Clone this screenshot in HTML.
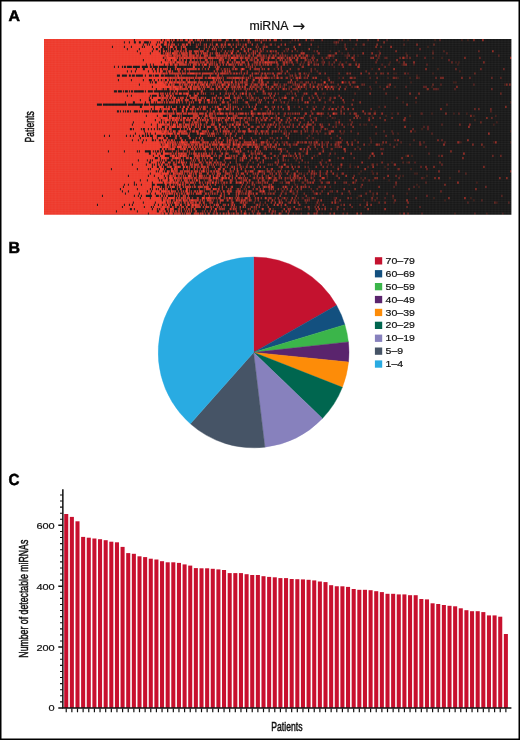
<!DOCTYPE html>
<html><head><meta charset="utf-8"><title>Figure</title>
<style>
html,body{margin:0;padding:0;background:#fff}
svg{display:block}
text{font-family:"Liberation Sans",Arial,Helvetica,sans-serif;fill:#111;stroke:#111;stroke-width:.2px}
.pl{text-rendering:geometricPrecision;font-weight:bold;font-size:15.2px;fill:#000;stroke:#000;stroke-width:.5px}
.cn{font-size:13.2px;stroke:#111;stroke-width:.5px}
</style></head><body>
<svg width="520" height="740" viewBox="0 0 520 740">
<rect x="0.75" y="0.75" width="518.5" height="738.5" fill="#fff" stroke="#000" stroke-width="1.5"/>
<text class="pl" transform="translate(8.6,20.95) scale(1.05,1)">A</text>
<text class="pl" transform="translate(8.5,252.8) scale(1.05,1.04)">B</text>
<text class="pl" transform="translate(8.6,484.95) scale(1.0,1.05)">C</text>
<text x="249.4" y="30" font-size="12.3">miRNA <tspan font-family="'DejaVu Sans','Liberation Sans',sans-serif" font-size="15" dx="1.4" dy="1.1">→</tspan></text>
<text class="cn" transform="translate(34.4,126.9) rotate(-90) scale(0.655,1)" text-anchor="middle">Patients</text>
<defs><filter id="bl" x="-0.02" y="-0.05" width="1.04" height="1.1"><feGaussianBlur stdDeviation="0.45"/></filter><clipPath id="hc"><rect x="44" y="39" width="467.4" height="175.8"/></clipPath></defs>
<g clip-path="url(#hc)"><g filter="url(#bl)"><rect x="40" y="35" width="476" height="184" fill="#161616"/><rect x="40" y="35" width="50" height="184" fill="#ee382c"/><g transform="translate(44,39) scale(0.99872,2.22532)"><g fill="none" stroke-width="1"><path d="M360 0.5h1m3 0h1m26 0h1m26 0h1m5 0h1M246 1.5h1M292 2.5h1M274 3.5h1m109 0h1M309 4.5h1M258 5.5h1m27 0h1m48 0h1m53 0h1M291 6.5h1m6 0h1m63 0h1M247 7.5h1m17 0h1m22 0h1m1 0h1m10 0h1m12 0h1M269 8.5h1m19 0h1m44 0h2m6 0h2m17 0h1m27 0h1m8 0h1M272 10.5h1m39 0h1m33 0h1m8 0h1m56 0h1m2 0h1M307 11.5h1m50 0h1m11 0h1m43 0h1M290 12.5h1M328 13.5h1m65 0h1M416 14.5h1M304 15.5h1m45 0h1m1 0h1m36 0h1M261 16.5h1m111 0h1M257 17.5h1m27 0h1m9 0h1m48 0h1m4 0h1m4 0h1m11 0h1m8 0h1M277 18.5h1M257 19.5h1m44 0h1m5 0h1m58 0h1m42 0h1m1 0h1M262 20.5h1m81 0h1m116 0h1M238 21.5h1m35 0h1m3 0h1m11 0h1m1 0h1m43 0h1m14 0h1m36 0h1M315 22.5h1m11 0h1m55 0h1M281 24.5h1M277 26.5h1m9 0h1M245 27.5h1m5 0h1m33 0h1M254 28.5h1m104 0h1m12 0h1m94 0h1M250 30.5h1m35 0h1m48 0h1M331 32.5h1M276 33.5h1m16 0h1m30 0h1m23 0h1m28 0h1m10 0h1m21 0h1m12 0h1M246 34.5h1m30 0h1m50 0h1m13 0h1m23 0h1m63 0h1m21 0h1M266 35.5h1m16 0h1m4 0h2m1 0h1M295 36.5h1m135 0h1M453 37.5h1M295 38.5h1m8 0h1m15 0h1m1 0h1m5 0h1m121 0h1M378 40.5h1M267 41.5h1m103 0h1m95 0h1M282 42.5h1m14 0h1m1 0h1m54 0h1M326 44.5h1M272 45.5h1m1 0h1m52 0h1M250 46.5h1m166 0h1m32 0h1m16 0h1M267 47.5h1m57 0h1m12 0h1m27 0h1m10 0h1M291 48.5h2m21 0h1m125 0h1M273 52.5h1m11 0h1m76 0h1m5 0h1M277 55.5h1m70 0h1m14 0h1M284 56.5h1m21 0h1m43 0h1M294 57.5h1m16 0h1m29 0h1M265 58.5h1m101 0h1M245 59.5h1m71 0h1m10 0h1M247 60.5h1m12 0h1m18 0h1m13 0h1m21 0h1m55 0h1m1 0h1M292 61.5h1m63 0h1m2 0h1m23 0h1M254 62.5h1m28 0h1m33 0h1m62 0h1m25 0h1M329 63.5h1m15 0h1M282 64.5h1m150 0h1M245 65.5h1m7 0h1m51 0h1m67 0h1M243 66.5h1m34 0h1m1 0h1m94 0h1M280 67.5h1M242 68.5h1M363 69.5h1M315 70.5h1m13 0h1M258 71.5h1m4 0h1m26 0h1m22 0h1m35 0h1m40 0h1m36 0h1M320 72.5h1m80 0h1m28 0h1M245 73.5h1m29 0h1m16 0h1m1 0h1m55 0h1m102 0h1M246 75.5h1M252 78.5h1m25 0h1m77 0h1m54 0h1m31 0h1m15 0h1" stroke="#57201d"/><path d="M203 0.5h1m8 0h1m4 0h1m7 0h1m22 0h1m46 0h1m10 0h1m17 0h1m18 0h1m52 0h1M290 1.5h1M231 2.5h1m87 0h1m40 0h1M235 3.5h1m65 0h1M207 4.5h1m34 0h1M219 5.5h1m23 0h1m9 0h1m16 0h1m24 0h1m104 0h1M205 6.5h1m21 0h1m4 0h1m71 0h1m98 0h1M206 7.5h1m19 0h1m5 0h1m6 0h1m3 0h1m40 0h1m2 0h1m15 0h1m151 0h1M216 8.5h1m5 0h1m17 0h1m13 0h1m3 0h1m4 0h1m18 0h2m26 0h1m30 0h1m21 0h1M264 9.5h1m14 0h1m53 0h1M257 10.5h1m2 0h1m9 0h1m7 0h1m6 0h1m10 0h1m5 0h1M259 11.5h1m25 0h1m13 0h1m38 0h1m6 0h1m37 0h1M225 13.5h1m4 0h1m24 0h1m15 0h1M237 14.5h1m35 0h1M202 15.5h1m7 0h1m2 0h1m3 0h1m7 0h1m19 0h1m5 0h1m10 0h1m2 0h1m9 0h1m88 0h1M251 16.5h2M224 17.5h1m2 0h2m3 0h1m3 0h1m9 0h1m2 0h1m11 0h1m22 0h1m25 0h1m15 0h1m130 0h1M209 19.5h1m24 0h1m21 0h1m1 0h1m42 0h1m9 0h1m20 0h1M209 20.5h1m59 0h1m9 0h1m117 0h1m32 0h1M207 21.5h1m5 0h3m11 0h1m6 0h1m10 0h1m12 0h1m3 0h1m13 0h1m8 0h1m3 0h1m12 0h1m5 0h1m17 0h1m18 0h1m16 0h1M197 22.5h1m52 0h1m1 0h1m15 0h1m71 0h1m53 0h1m16 0h1M254 23.5h1M220 24.5h1m22 0h1m1 0h1m2 0h1m14 0h1m15 0h1m31 0h1M259 25.5h1m8 0h1M205 26.5h1m29 0h1m44 0h1m72 0h1M207 27.5h1m13 0h1m44 0h1M201 28.5h1m42 0h1M243 29.5h1m159 0h1M202 30.5h1m20 0h1m45 0h1m24 0h1M234 31.5h1m34 0h1m27 0h1M447 32.5h1M211 33.5h1m1 0h1m8 0h1m8 0h1m8 0h1m7 0h2m19 0h1m8 0h1m12 0h1m38 0h1m47 0h1m36 0h1M202 34.5h1m22 0h1M230 35.5h1m12 0h1m10 0h1m1 0h1m13 0h1m45 0h1M203 36.5h1m5 0h1m10 0h1m4 0h1m12 0h1m8 0h1m2 0h1m9 0h1m100 0h1M238 38.5h1m53 0h1m23 0h1m81 0h1M226 39.5h1m8 0h1m3 0h1m19 0h1m19 0h1m100 0h1M241 40.5h1m35 0h1m5 0h1M212 41.5h1m6 0h2m3 0h1m15 0h1m11 0h2m18 0h1m27 0h1m39 0h1m7 0h1M223 42.5h1m44 0h1m5 0h1m6 0h1m50 0h1m16 0h1m38 0h1M244 43.5h1m20 0h1m27 0h1M269 44.5h1m17 0h1M210 45.5h1m87 0h1m12 0h1m58 0h1M212 46.5h1m25 0h1m1 0h1m19 0h1m21 0h1m12 0h1m31 0h1m29 0h1m22 0h1m20 0h1M208 47.5h1m10 0h1m29 0h1m16 0h1m6 0h1m6 0h1m51 0h1m13 0h1m6 0h1M214 48.5h1m13 0h2m35 0h1m27 0h1m88 0h1M227 49.5h1m11 0h1m1 0h1m31 0h1m13 0h1m51 0h1M197 50.5h1m16 0h1m44 0h1M209 51.5h1m16 0h1m64 0h1m93 0h1M219 52.5h1m14 0h1m9 0h1m4 0h1m9 0h1m10 0h1m124 0h1M199 53.5h1m33 0h1m60 0h1m3 0h1m26 0h1M241 54.5h1m2 0h1m7 0h1m25 0h1M232 55.5h1m28 0h1m97 0h1m11 0h1M228 56.5h1m18 0h1m50 0h1m29 0h1m4 0h1M242 57.5h1m21 0h1m24 0h1m7 0h1m8 0h1m17 0h1M344 58.5h1m9 0h1M219 59.5h1M218 60.5h1m64 0h1m45 0h1m92 0h1M210 61.5h1m56 0h1m15 0h1M209 62.5h1m2 0h1m31 0h1m5 0h1m4 0h1m13 0h1M229 63.5h1m1 0h1m1 0h1m85 0h1M212 64.5h1m2 0h1m20 0h1m13 0h1m7 0h1m4 0h1m4 0h1m8 0h1m6 0h1m26 0h1m70 0h1M251 65.5h1m100 0h1M262 66.5h1m13 0h1m9 0h1m30 0h1m32 0h1m19 0h1M237 67.5h1m13 0h1m2 0h1m12 0h1M215 68.5h1m9 0h1m13 0h1m9 0h1m36 0h1M220 69.5h2m5 0h1m13 0h1m8 0h1m2 0h1m16 0h1m35 0h1m22 0h1m13 0h1M458 70.5h1M197 71.5h1m15 0h1m10 0h1m13 0h1m2 0h1m1 0h1m10 0h1m4 0h1m5 0h1m2 0h1m2 0h1m35 0h1m25 0h1m7 0h1m30 0h1M203 72.5h1m48 0h1m75 0h1m2 0h1m106 0h1M203 73.5h1m40 0h1m179 0h1m40 0h1M212 74.5h1m3 0h1m2 0h1m22 0h1m13 0h1m15 0h1m2 0h1m21 0h1M237 75.5h1m5 0h1m49 0h1m27 0h1m54 0h1M229 76.5h1m15 0h1m11 0h1M227 78.5h1m9 0h1m11 0h1m7 0h1m7 0h1m7 0h1m104 0h1m52 0h1" stroke="#772520"/><path d="M165 0.5h1m4 0h2m5 0h1m6 0h1m9 0h1m2 0h1m22 0h1m16 0h1m13 0h1m15 0h1m1 0h1m8 0h1m19 0h1M168 1.5h1m25 0h1m99 0h1M152 2.5h1m3 0h1m23 0h1m11 0h1m3 0h1m2 0h1m20 0h1m5 0h1m74 0h1m10 0h1m7 0h1m69 0h1M153 3.5h1m6 0h1m13 0h1m6 0h1m16 0h1m3 0h1m11 0h1m4 0h1m3 0h1m113 0h1M164 4.5h1m13 0h1m34 0h1m162 0h1M164 5.5h1m12 0h1m6 0h1m1 0h1m2 0h1m3 0h1m22 0h1m14 0h1m8 0h1m194 0h1M162 6.5h1m8 0h1m10 0h1m9 0h1m14 0h1m8 0h1m21 0h1m19 0h1m15 0h1m114 0h1M165 7.5h1m10 0h2m1 0h1m1 0h1m3 0h2m2 0h1m2 0h1m1 0h1m4 0h1m1 0h1m13 0h3m2 0h1m1 0h1m15 0h1m9 0h1m2 0h1m7 0h1m9 0h1m19 0h1m20 0h1m24 0h1m27 0h1m9 0h1M154 8.5h1m4 0h1m2 0h1m7 0h1m1 0h1m2 0h1m3 0h1m2 0h1m1 0h1m9 0h1m4 0h1m3 0h3m1 0h2m1 0h2m1 0h1m3 0h2m1 0h1m6 0h1m5 0h1m2 0h1m2 0h1m20 0h1m9 0h1m7 0h1m6 0h1m17 0h1m5 0h1m46 0h1m3 0h1m5 0h1m14 0h1m54 0h1M153 9.5h1m12 0h1m11 0h1m27 0h1m1 0h1m9 0h1m13 0h1m10 0h1m1 0h1m16 0h1m3 0h1m138 0h1M153 10.5h1m3 0h2m3 0h1m4 0h1m4 0h1m3 0h1m3 0h1m16 0h1m13 0h2m2 0h1m3 0h2m8 0h1m15 0h1m1 0h1m5 0h1m10 0h2m24 0h1m41 0h1m75 0h1M167 11.5h1m16 0h1m3 0h1m9 0h1m2 0h1m3 0h1m4 0h1m1 0h2m1 0h1m10 0h1m7 0h1m4 0h1m3 0h1m28 0h1m6 0h1m8 0h1m6 0h1m9 0h1M175 12.5h1m13 0h1m12 0h1m1 0h1m6 0h1m5 0h1m15 0h1m24 0h1m82 0h1M158 13.5h1m18 0h1m3 0h1m3 0h1m2 0h1m4 0h1m6 0h1m9 0h1m1 0h1m1 0h1m39 0h1m12 0h1m144 0h1m24 0h1m22 0h1M180 14.5h1m5 0h1m28 0h1m22 0h1m28 0h1m54 0h1M154 15.5h1m14 0h1m12 0h1m1 0h1m2 0h1m1 0h1m21 0h1m8 0h1m2 0h2m1 0h1m1 0h1m4 0h1m2 0h1m58 0h1m36 0h1m6 0h1m91 0h1M178 16.5h1m20 0h1m21 0h1m24 0h1M153 17.5h1m8 0h1m9 0h1m3 0h1m7 0h1m1 0h3m7 0h2m2 0h1m5 0h1m2 0h1m5 0h1m2 0h2m5 0h1m4 0h1m6 0h2m3 0h1m17 0h1m10 0h1m27 0h1m6 0h3m2 0h1m21 0h1m18 0h1m20 0h1m18 0h1m33 0h1m21 0h1M188 18.5h1m6 0h1m57 0h1M166 19.5h1m8 0h1m6 0h1m1 0h1m12 0h1m3 0h3m10 0h1m4 0h1m3 0h1m6 0h1m17 0h1m19 0h1m2 0h1m17 0h1m20 0h1M166 20.5h1m2 0h1m5 0h1m1 0h1m3 0h1m9 0h2m5 0h1m11 0h1m1 0h1m3 0h1m1 0h1m12 0h2m3 0h1m5 0h1m6 0h1m9 0h1m15 0h1m18 0h1m23 0h1m1 0h1m68 0h1M161 21.5h1m14 0h1m2 0h1m7 0h3m4 0h1m1 0h1m11 0h1m1 0h1m1 0h1m5 0h1m10 0h1m2 0h1m7 0h1m11 0h1m58 0h1m68 0h1m1 0h1M166 22.5h1m1 0h1m7 0h2m14 0h1m3 0h1m3 0h1m6 0h2m2 0h1m5 0h1m1 0h1m4 0h1m1 0h2m2 0h1m14 0h1m3 0h1m1 0h1m4 0h1m5 0h1m23 0h1m103 0h1m1 0h1m55 0h1M182 23.5h1m37 0h1m26 0h1M167 24.5h1m13 0h1m6 0h1m12 0h1m3 0h1m13 0h1m4 0h1m9 0h1m107 0h1m114 0h1M180 25.5h1m13 0h1m1 0h1m5 0h1m2 0h1m35 0h1m10 0h1m20 0h1M158 26.5h1m35 0h2m11 0h1m1 0h1m2 0h1m1 0h1m7 0h1m6 0h1m8 0h1m35 0h1m11 0h1m3 0h1M176 27.5h1m14 0h1m7 0h1m6 0h1m2 0h1m1 0h1m24 0h1m11 0h1m5 0h1m20 0h2m9 0h1m22 0h1M168 28.5h1m14 0h2m8 0h1m20 0h1m22 0h1m32 0h1m10 0h1m18 0h1M204 29.5h1M168 30.5h1m24 0h1m5 0h1m8 0h1m13 0h1m5 0h1m26 0h1m7 0h1m8 0h1m7 0h1m17 0h1m42 0h1M171 31.5h1m40 0h1m4 0h1m26 0h1m13 0h1m20 0h1m20 0h1m26 0h1m103 0h1m3 0h1m11 0h1M166 32.5h1m9 0h1m9 0h1m36 0h1m43 0h1M171 33.5h1m3 0h1m5 0h1m5 0h2m6 0h1m13 0h2m12 0h1m1 0h1m3 0h1m4 0h2m10 0h1m32 0h1m4 0h1m12 0h1m8 0h1m3 0h2m13 0h1m28 0h1M158 34.5h1m8 0h2m21 0h1m1 0h2m15 0h1m30 0h1m19 0h1M163 35.5h1m6 0h2m4 0h2m2 0h1m7 0h1m1 0h1m2 0h1m1 0h1m2 0h1m1 0h3m1 0h1m2 0h1m8 0h1m3 0h1m11 0h1m25 0h1m66 0h1m10 0h1m111 0h1M160 36.5h1m6 0h1m2 0h1m12 0h2m20 0h1m1 0h1m6 0h1m3 0h1m3 0h1m3 0h1m5 0h1m13 0h1m59 0h1M154 37.5h1m19 0h1m3 0h1m13 0h3m6 0h2m9 0h1m22 0h1m56 0h1m15 0h1m128 0h1M162 38.5h1m20 0h1m1 0h1m8 0h1m10 0h1m11 0h1m17 0h1m10 0h1m17 0h4m3 0h1m6 0h1m137 0h1M170 39.5h1m15 0h1m15 0h1m4 0h1m1 0h1m4 0h2m3 0h1m16 0h1m40 0h1m11 0h1m2 0h1m7 0h1m83 0h1M173 40.5h1m8 0h1m8 0h1m68 0h1m2 0h1m105 0h1m14 0h1M183 41.5h1m4 0h1m6 0h1m2 0h1m5 0h1m23 0h2m2 0h1m1 0h1m7 0h1m4 0h1m3 0h1m11 0h1m9 0h1m2 0h1m8 0h1m21 0h1M161 42.5h1m10 0h1m1 0h1m4 0h1m1 0h1m2 0h1m27 0h1m8 0h1m2 0h1m3 0h1m13 0h1m14 0h1m27 0h1m28 0h1M181 43.5h1m16 0h1m143 0h1M172 44.5h1m13 0h1m8 0h1m30 0h1m1 0h1m34 0h1M158 45.5h1m13 0h1m1 0h1m11 0h2m3 0h2m7 0h1m29 0h1m120 0h1m46 0h1M162 46.5h1m27 0h1m4 0h1m6 0h4m1 0h1m12 0h1m2 0h1m1 0h1m3 0h1m12 0h2m9 0h1m2 0h1m4 0h1m30 0h1m4 0h1m10 0h1m67 0h1m38 0h1M175 47.5h1m5 0h4m1 0h1m4 0h1m1 0h1m2 0h1m3 0h3m8 0h1m1 0h1m1 0h1m2 0h1m24 0h1m2 0h1m3 0h1m2 0h1m16 0h2m15 0h1m3 0h2m2 0h1m80 0h1M170 48.5h1m9 0h1m12 0h1m4 0h1m4 0h1m11 0h1m5 0h2m1 0h1m7 0h1m13 0h1m36 0h1m66 0h1M157 49.5h1m7 0h3m2 0h1m16 0h1m3 0h1m1 0h1m6 0h1m19 0h1m10 0h1m2 0h2m43 0h1m8 0h1m22 0h1m4 0h1m20 0h1M182 50.5h1m6 0h1m1 0h1m15 0h1M161 51.5h1m5 0h1m9 0h1m3 0h1m2 0h1m10 0h1m3 0h1m8 0h1m4 0h2m2 0h2m26 0h1m10 0h1m5 0h1m12 0h1M161 52.5h1m14 0h2m7 0h1m3 0h1m2 0h2m14 0h1m21 0h2m15 0h1m78 0h1m122 0h1m7 0h1M152 53.5h1m2 0h1m31 0h1m4 0h1m3 0h1m10 0h1m6 0h1m7 0h1m1 0h1m25 0h1m59 0h1M165 54.5h1m26 0h1m6 0h1M159 55.5h1m14 0h1m2 0h1m14 0h1m11 0h1m4 0h1m45 0h1m8 0h1m17 0h1m82 0h1m30 0h1M163 56.5h2m9 0h1m4 0h1m13 0h1m1 0h2m6 0h1m20 0h1m1 0h1m60 0h1m41 0h1m14 0h1m53 0h1M154 57.5h2m12 0h1m8 0h1m3 0h1m5 0h1m5 0h1m2 0h2m1 0h1m2 0h2m5 0h1m25 0h1m7 0h1m7 0h1m2 0h1m6 0h1m21 0h1m93 0h1M162 58.5h1m38 0h1m25 0h1m9 0h1m117 0h1m27 0h1M166 59.5h1m2 0h1m5 0h1m6 0h1m4 0h1m6 0h1m7 0h1m1 0h1m4 0h1m7 0h1m2 0h1m2 0h2m2 0h1m2 0h1m10 0h1m2 0h1m25 0h1m144 0h1M182 60.5h1m1 0h1m2 0h1m25 0h1m23 0h1m17 0h1m1 0h1m5 0h1m3 0h2m29 0h1m34 0h1M162 61.5h1m9 0h1m1 0h1m3 0h1m1 0h1m4 0h2m6 0h1m2 0h1m9 0h1m15 0h1m5 0h1m1 0h1m4 0h1m10 0h1m7 0h1m15 0h1m22 0h1m16 0h1m41 0h1M154 62.5h1m3 0h1m1 0h1m1 0h3m9 0h1m5 0h1m15 0h1m16 0h1m2 0h1m5 0h1m4 0h1m2 0h1m1 0h1m10 0h1m9 0h1m4 0h1m62 0h1m18 0h1m14 0h1m22 0h1M160 63.5h1m3 0h1m4 0h1m4 0h1m1 0h1m11 0h1m8 0h1m1 0h3m4 0h1m11 0h3m3 0h1m16 0h1m6 0h1m6 0h1m20 0h1m48 0h1M165 64.5h1m11 0h1m1 0h1m3 0h1m10 0h1m10 0h1m3 0h1m8 0h1m1 0h1m17 0h1m4 0h1m15 0h1m4 0h1m18 0h1m16 0h1M156 65.5h1m21 0h1m1 0h1m21 0h1m15 0h1m42 0h1M175 66.5h1m25 0h1m2 0h1m5 0h1m8 0h1m1 0h1m53 0h1m166 0h1M160 67.5h1m14 0h1m10 0h2m5 0h1m2 0h1m3 0h1m1 0h1m9 0h1m27 0h1m32 0h1m91 0h1M166 68.5h2m8 0h1m8 0h1m7 0h1m4 0h1m5 0h1m2 0h1m10 0h1m12 0h1m6 0h1m30 0h1m8 0h1m9 0h1m37 0h1m70 0h1M166 69.5h1m4 0h1m25 0h1m1 0h1m2 0h1m3 0h1m11 0h1m5 0h1m4 0h2m11 0h1m6 0h1m10 0h1m15 0h1m45 0h1M210 70.5h1m138 0h1m33 0h1M168 71.5h2m4 0h1m7 0h1m4 0h1m3 0h1m3 0h1m2 0h1m6 0h2m18 0h1m1 0h1m3 0h1m19 0h1M167 72.5h1m1 0h1m3 0h1m10 0h1m2 0h2m5 0h1m4 0h1m6 0h2m3 0h1m18 0h1m6 0h1m4 0h1m22 0h1M165 73.5h1m1 0h1m19 0h1m8 0h1m4 0h2m7 0h1m5 0h1m4 0h1m29 0h1m10 0h1m60 0h1m11 0h1m115 0h1M166 74.5h1m13 0h1m6 0h1m11 0h1m15 0h1m7 0h1m92 0h1M161 75.5h1m4 0h1m13 0h1m8 0h1m2 0h1m15 0h1m52 0h1m3 0h1m5 0h1m9 0h1m12 0h1m13 0h1m54 0h1M175 76.5h1m1 0h1m1 0h1m7 0h1m2 0h1m1 0h1m3 0h1m13 0h1m1 0h1m12 0h1m27 0h1m1 0h1m9 0h1m12 0h1m8 0h1m5 0h1m6 0h1M158 77.5h1m4 0h1m46 0h1m17 0h1m9 0h1M157 78.5h1m1 0h1m10 0h1m9 0h1m6 0h1m2 0h1m1 0h2m3 0h1m4 0h1m2 0h1m8 0h1m6 0h1m9 0h1m67 0h1m3 0h1m60 0h1" stroke="#982a23"/><path d="M122 0.5h1m7 0h1m3 0h1m1 0h2m3 0h1m3 0h2m4 0h1m1 0h3m3 0h1m3 0h1m4 0h2m2 0h1m1 0h2m6 0h2m4 0h1m3 0h2m6 0h1m4 0h1m7 0h1m1 0h1m3 0h1m11 0h1m22 0h1m58 0h1m116 0h1M120 1.5h1m23 0h3m2 0h1m6 0h1m24 0h1m22 0h1m1 0h1m85 0h1m47 0h1M125 2.5h1m2 0h2m4 0h1m4 0h2m5 0h1m7 0h1m5 0h1m5 0h1m1 0h1m8 0h2m5 0h3m2 0h1m4 0h1m6 0h2m10 0h1m13 0h1m9 0h1m17 0h2m10 0h1m65 0h1m39 0h1M122 3.5h1m9 0h1m7 0h1m11 0h1m9 0h1m2 0h1m3 0h1m1 0h1m5 0h1m1 0h1m7 0h1m11 0h1m12 0h1m7 0h1m1 0h1m11 0h1m97 0h1M119 4.5h1m6 0h1m2 0h1m11 0h2m12 0h1m4 0h1m11 0h1m16 0h1m10 0h1m15 0h1m2 0h1m24 0h1m57 0h1M124 5.5h1m6 0h2m1 0h1m1 0h2m1 0h1m1 0h1m3 0h2m3 0h5m1 0h2m1 0h1m12 0h1m27 0h2m9 0h1m5 0h1m5 0h1m2 0h2m1 0h1m2 0h1m15 0h1m24 0h1m78 0h1M119 6.5h1m1 0h2m2 0h1m5 0h3m1 0h1m1 0h5m1 0h1m1 0h3m3 0h1m2 0h1m4 0h2m2 0h1m2 0h1m1 0h1m3 0h1m2 0h1m4 0h1m2 0h1m12 0h1m5 0h1m31 0h1m25 0h1m14 0h1m60 0h1M121 7.5h1m3 0h3m1 0h1m1 0h2m1 0h1m1 0h1m1 0h6m1 0h4m1 0h1m1 0h1m1 0h1m5 0h3m3 0h1m5 0h3m3 0h1m1 0h1m9 0h1m4 0h1m1 0h1m6 0h1m8 0h2m4 0h1m5 0h1m5 0h1m4 0h1m4 0h1m14 0h1m5 0h1m22 0h1m19 0h1m26 0h1M120 8.5h1m1 0h1m9 0h1m2 0h2m1 0h2m2 0h7m2 0h1m1 0h1m1 0h1m1 0h2m1 0h2m2 0h6m4 0h1m1 0h3m2 0h1m3 0h1m4 0h3m3 0h3m2 0h2m16 0h1m4 0h2m2 0h3m3 0h2m1 0h2m6 0h2m1 0h1m10 0h1m8 0h1m58 0h1m93 0h1M122 9.5h2m4 0h2m5 0h2m2 0h1m7 0h1m2 0h1m5 0h1m4 0h3m4 0h1m7 0h2m6 0h1m1 0h1m4 0h1m10 0h1m4 0h1m2 0h1m2 0h2m23 0h1m2 0h1m4 0h2m4 0h1m8 0h1m7 0h1m3 0h1m36 0h1m42 0h1M125 10.5h1m2 0h1m3 0h1m3 0h4m5 0h3m1 0h3m2 0h1m1 0h1m2 0h2m3 0h1m1 0h1m1 0h1m1 0h1m4 0h1m3 0h1m10 0h1m2 0h2m3 0h2m10 0h1m7 0h1m4 0h4m1 0h1m3 0h2m5 0h1m3 0h1m4 0h1m18 0h1m12 0h1m79 0h1m79 0h1M124 11.5h1m3 0h1m1 0h1m2 0h1m2 0h7m1 0h1m5 0h3m1 0h1m10 0h2m1 0h1m1 0h1m1 0h1m3 0h1m9 0h2m1 0h1m1 0h1m5 0h1m10 0h1m7 0h1m2 0h1m1 0h1m1 0h1m3 0h1m5 0h1m15 0h1m6 0h1m7 0h2m4 0h1m35 0h1m53 0h1M123 12.5h1m8 0h1m26 0h1m11 0h1m1 0h2m15 0h1m15 0h1m1 0h1m28 0h1m21 0h1m39 0h1m15 0h1M120 13.5h1m1 0h1m12 0h1m4 0h1m2 0h2m1 0h5m1 0h1m2 0h1m5 0h1m10 0h1m1 0h1m5 0h1m2 0h1m5 0h1m2 0h1m4 0h1m13 0h1m1 0h1m1 0h1m2 0h1m1 0h1m13 0h1m2 0h1m8 0h1m135 0h1M124 14.5h1m10 0h1m2 0h1m2 0h1m3 0h1m27 0h1m4 0h1m4 0h1m13 0h1m5 0h1M118 15.5h1m2 0h1m1 0h1m2 0h2m1 0h1m1 0h5m3 0h2m2 0h1m1 0h1m5 0h1m1 0h1m1 0h2m1 0h2m1 0h6m1 0h1m2 0h2m3 0h1m1 0h2m1 0h1m1 0h1m2 0h1m6 0h1m1 0h1m1 0h1m5 0h1m10 0h1m19 0h1m2 0h1m3 0h1m13 0h1m4 0h1m15 0h1m4 0h1m21 0h1m2 0h1m18 0h1m11 0h1m6 0h1m16 0h1M120 16.5h1m10 0h1m1 0h1m3 0h1m14 0h1m5 0h1m14 0h1m34 0h1m8 0h1m4 0h1m25 0h1m7 0h1M124 17.5h2m2 0h6m2 0h1m1 0h4m1 0h2m1 0h1m1 0h1m3 0h1m1 0h5m2 0h1m2 0h4m3 0h1m1 0h2m2 0h1m1 0h1m3 0h1m1 0h1m3 0h2m1 0h4m2 0h2m2 0h1m8 0h1m1 0h1m3 0h1m2 0h3m10 0h2m8 0h1m8 0h1m2 0h2m6 0h1m86 0h1m46 0h1m1 0h1m18 0h1M119 18.5h1m8 0h1m3 0h1m2 0h1m2 0h1m3 0h2m6 0h1m4 0h1m13 0h2m3 0h1m1 0h1m2 0h1m11 0h1m10 0h2m6 0h1m6 0h2M120 19.5h1m8 0h1m2 0h1m3 0h3m2 0h1m1 0h1m3 0h3m2 0h1m1 0h2m1 0h2m1 0h2m5 0h2m1 0h1m3 0h1m1 0h1m3 0h2m3 0h1m5 0h2m1 0h1m1 0h1m3 0h1m7 0h1m6 0h1m1 0h1m6 0h1m19 0h1m6 0h1m10 0h1m1 0h1m22 0h1m17 0h1m3 0h1M122 20.5h1m5 0h1m1 0h1m5 0h1m3 0h4m1 0h1m7 0h2m1 0h2m2 0h1m4 0h1m2 0h1m2 0h1m8 0h1m6 0h1m1 0h1m4 0h2m5 0h3m9 0h1m7 0h1m11 0h1m6 0h1m10 0h1m1 0h1m1 0h1m4 0h2m12 0h1m2 0h1m5 0h1m22 0h1m156 0h1m2 0h1M128 21.5h1m4 0h3m2 0h1m2 0h1m2 0h2m3 0h2m1 0h2m1 0h1m1 0h1m1 0h2m3 0h2m1 0h1m6 0h1m7 0h2m6 0h2m1 0h1m6 0h1m8 0h1m7 0h1m4 0h1m13 0h1m10 0h1m6 0h2m4 0h1m5 0h1m2 0h2m16 0h2m7 0h1m17 0h1m98 0h1M118 22.5h1m2 0h1m3 0h1m2 0h1m1 0h1m4 0h1m1 0h1m1 0h1m1 0h2m6 0h4m2 0h2m1 0h1m8 0h1m4 0h2m6 0h1m2 0h1m4 0h1m1 0h1m3 0h1m6 0h1m1 0h1m1 0h1m6 0h1m3 0h1m17 0h1m5 0h1m1 0h1m10 0h1m24 0h1m4 0h1m17 0h1m82 0h1M126 23.5h1m17 0h1m12 0h2m43 0h1m10 0h1M117 24.5h1m1 0h1m6 0h1m1 0h2m1 0h1m1 0h1m5 0h1m1 0h1m8 0h1m2 0h1m3 0h1m3 0h1m7 0h1m12 0h1m1 0h1m1 0h1m2 0h1m2 0h1m3 0h1m9 0h1m3 0h1m10 0h1m3 0h1m5 0h1m19 0h1m8 0h1m10 0h1m54 0h1m39 0h1m8 0h1M118 25.5h1m5 0h1m20 0h1m4 0h1m2 0h1m36 0h1m16 0h1m87 0h1M117 26.5h1m2 0h3m2 0h1m3 0h1m4 0h1m1 0h2m1 0h1m6 0h7m1 0h1m4 0h1m11 0h1m2 0h1m2 0h1m4 0h1m1 0h1m6 0h1m1 0h1m3 0h1m5 0h1m4 0h1m15 0h1m2 0h1m12 0h3m6 0h1m8 0h1m6 0h1m3 0h1m21 0h1m5 0h1m74 0h1M118 27.5h2m4 0h1m2 0h1m1 0h1m2 0h2m3 0h2m2 0h2m1 0h1m3 0h1m3 0h1m1 0h4m2 0h1m7 0h1m2 0h1m14 0h1m6 0h1m21 0h1m1 0h1m12 0h1m1 0h1m25 0h1M117 28.5h1m4 0h2m2 0h2m1 0h1m8 0h1m3 0h1m2 0h1m14 0h1m3 0h2m1 0h1m2 0h1m1 0h1m6 0h2m8 0h1m1 0h1m10 0h1m21 0h1m15 0h1m22 0h2m24 0h1m26 0h1M176 29.5h1m7 0h1m1 0h1m121 0h1m54 0h1M124 30.5h1m11 0h1m6 0h1m4 0h1m1 0h1m4 0h1m1 0h1m1 0h3m1 0h1m9 0h2m5 0h2m2 0h1m4 0h1m1 0h1m42 0h1m2 0h1m7 0h1m53 0h1m162 0h1M117 31.5h2m2 0h3m5 0h1m2 0h1m6 0h1m6 0h2m1 0h1m1 0h1m1 0h2m1 0h1m3 0h2m4 0h1m10 0h1m1 0h1m2 0h3m1 0h1m10 0h1m12 0h2m12 0h1m4 0h1m9 0h1m45 0h1m3 0h1m19 0h1m87 0h1M132 32.5h1m15 0h1m2 0h1m11 0h1m5 0h1m5 0h1m31 0h2m88 0h1M122 33.5h1m1 0h1m1 0h1m1 0h1m1 0h1m1 0h1m3 0h1m2 0h2m1 0h1m3 0h8m1 0h5m2 0h1m2 0h1m1 0h1m2 0h1m2 0h2m3 0h2m2 0h2m2 0h1m5 0h1m1 0h1m1 0h4m1 0h2m1 0h1m11 0h1m1 0h1m1 0h1m3 0h1m3 0h1m12 0h1m2 0h1m8 0h1m7 0h1m6 0h1m4 0h1m1 0h1m16 0h1m7 0h1m11 0h1m8 0h1m4 0h1m75 0h1M123 34.5h1m9 0h1m1 0h1m1 0h1m11 0h6m6 0h3m1 0h2m4 0h1m17 0h1m1 0h1m16 0h1m10 0h1m12 0h1m33 0h1m19 0h1m27 0h1m112 0h1M116 35.5h1m10 0h1m3 0h1m2 0h1m2 0h1m5 0h1m2 0h3m1 0h3m4 0h1m3 0h1m4 0h4m2 0h1m1 0h2m2 0h2m2 0h1m11 0h1m1 0h1m8 0h1m6 0h2m5 0h1m2 0h2m3 0h2m5 0h2m14 0h1m6 0h1m1 0h1m12 0h1m37 0h1m2 0h1m15 0h1m18 0h1m12 0h1m81 0h1M119 36.5h2m4 0h2m3 0h1m2 0h1m2 0h1m3 0h1m1 0h3m1 0h1m2 0h2m3 0h1m4 0h1m4 0h1m7 0h1m4 0h1m3 0h2m7 0h1m5 0h1m3 0h1m11 0h1m4 0h1m16 0h1m8 0h1m23 0h1m4 0h1m68 0h1m18 0h1M127 37.5h1m2 0h1m8 0h1m5 0h1m5 0h3m2 0h1m6 0h1m6 0h1m11 0h1m7 0h1m5 0h1m18 0h1m20 0h1m5 0h1m2 0h1m10 0h1m7 0h1M121 38.5h2m4 0h1m9 0h1m1 0h1m3 0h3m2 0h1m2 0h1m4 0h2m2 0h1m6 0h2m1 0h1m15 0h1m6 0h1m5 0h1m24 0h1m1 0h2m1 0h1m2 0h1m16 0h1m10 0h1m2 0h1m21 0h1m12 0h1m8 0h1m118 0h1M123 39.5h1m2 0h2m7 0h2m2 0h1m1 0h1m2 0h2m6 0h1m10 0h3m6 0h1m2 0h1m2 0h2m5 0h1m4 0h2m2 0h1m5 0h1m7 0h1m4 0h1m4 0h1m4 0h1m1 0h1m14 0h1m2 0h1m1 0h1m3 0h1m3 0h1m8 0h1m6 0h1m8 0h1m30 0h1m22 0h1M119 40.5h1m7 0h1m12 0h1m9 0h1m4 0h2m6 0h1m7 0h1m4 0h1m3 0h1m2 0h1m11 0h1m8 0h1m7 0h1m11 0h1m10 0h1m33 0h1m11 0h1M118 41.5h2m3 0h1m2 0h2m3 0h1m2 0h1m2 0h3m2 0h1m3 0h1m1 0h1m1 0h1m2 0h2m3 0h3m1 0h1m10 0h1m6 0h1m1 0h1m2 0h1m4 0h1m3 0h1m1 0h1m3 0h2m4 0h2m1 0h1m1 0h1m1 0h1m4 0h1m4 0h1m7 0h1m5 0h1m12 0h1m6 0h1m3 0h1m7 0h1m18 0h1m7 0h1M122 42.5h2m7 0h1m5 0h7m1 0h1m7 0h2m5 0h1m2 0h1m1 0h1m1 0h4m15 0h2m4 0h1m7 0h1m10 0h1m3 0h1m2 0h1m26 0h1M117 43.5h1m13 0h1m3 0h1m9 0h1m10 0h1m7 0h1m1 0h1m1 0h1m1 0h1m15 0h1m4 0h1m50 0h1M122 44.5h1m8 0h2m3 0h2m7 0h2m5 0h1m22 0h1m7 0h1m14 0h1m8 0h1m8 0h1m16 0h1m3 0h1m58 0h1M124 45.5h2m25 0h1m5 0h1m1 0h1m19 0h1m9 0h1m3 0h1m14 0h1m3 0h1m10 0h1m170 0h1M116 46.5h1m2 0h1m5 0h1m1 0h1m1 0h2m2 0h1m2 0h1m4 0h3m3 0h1m3 0h3m1 0h1m2 0h1m1 0h2m1 0h2m2 0h1m2 0h1m3 0h2m2 0h1m6 0h2m5 0h1m3 0h1m3 0h2m16 0h1m3 0h1m10 0h1m24 0h1m6 0h1m1 0h1m2 0h1m2 0h1m4 0h1m5 0h1m11 0h1m17 0h1m24 0h1m2 0h1m71 0h1M119 47.5h2m4 0h1m4 0h1m1 0h1m1 0h2m1 0h1m1 0h1m3 0h1m1 0h1m2 0h2m2 0h1m2 0h3m1 0h1m1 0h1m1 0h1m1 0h2m1 0h6m6 0h1m11 0h1m5 0h1m5 0h4m1 0h2m6 0h1m6 0h1m1 0h2m3 0h1m13 0h1m32 0h1m4 0h1m10 0h1m9 0h1m15 0h1m14 0h1m93 0h1m8 0h1M118 48.5h1m6 0h2m2 0h1m1 0h1m8 0h2m2 0h2m4 0h2m1 0h1m1 0h2m1 0h1m2 0h2m1 0h1m1 0h1m8 0h1m2 0h2m3 0h3m3 0h1m4 0h2m1 0h1m6 0h1m3 0h1m2 0h2m7 0h1m43 0h1m6 0h1m23 0h1m1 0h1M121 49.5h2m1 0h2m1 0h1m6 0h1m1 0h4m3 0h1m3 0h3m2 0h1m1 0h1m1 0h1m2 0h1m8 0h1m8 0h1m2 0h2m1 0h1m1 0h1m4 0h1m45 0h2m19 0h1m2 0h1m2 0h1m2 0h1m34 0h1M128 50.5h1m3 0h1m1 0h1m4 0h1m3 0h1m1 0h1m15 0h1m6 0h1m7 0h1m15 0h2m10 0h1m11 0h1m26 0h1m57 0h1m105 0h1M125 51.5h1m1 0h1m1 0h1m2 0h1m3 0h1m2 0h1m1 0h2m2 0h1m1 0h1m1 0h1m1 0h2m1 0h2m3 0h2m4 0h1m2 0h1m2 0h1m10 0h2m10 0h1m5 0h1m6 0h1m3 0h1m15 0h1m8 0h1m18 0h1m30 0h1m20 0h1m20 0h2M126 52.5h2m6 0h2m2 0h1m2 0h2m1 0h1m6 0h2m1 0h1m3 0h1m1 0h1m1 0h1m1 0h3m3 0h1m1 0h1m2 0h1m11 0h1m2 0h1m8 0h3m10 0h1m7 0h2m17 0h1m6 0h1m9 0h1m73 0h1m67 0h1M123 53.5h1m5 0h2m4 0h2m2 0h1m2 0h3m8 0h2m3 0h1m1 0h1m5 0h1m8 0h1m6 0h5m3 0h1m17 0h1m2 0h1m3 0h1m5 0h1m17 0h1m13 0h1m2 0h1m101 0h1m60 0h1M122 54.5h1m4 0h2m3 0h1m14 0h1m3 0h1m2 0h1m3 0h1m2 0h1m6 0h1m3 0h1m7 0h1m15 0h1m9 0h1m6 0h1m20 0h1m4 0h1m18 0h1m26 0h2M126 55.5h1m2 0h2m1 0h1m6 0h2m7 0h1m1 0h1m4 0h3m4 0h1m3 0h2m2 0h2m4 0h1m4 0h1m34 0h1m2 0h1m11 0h1m2 0h1m41 0h1m61 0h1M122 56.5h1m2 0h1m3 0h1m1 0h2m8 0h1m5 0h1m3 0h3m4 0h1m6 0h1m1 0h1m4 0h1m11 0h1m48 0h1m6 0h2m35 0h1M123 57.5h3m4 0h1m2 0h1m2 0h1m8 0h1m1 0h2m1 0h2m1 0h1m3 0h3m1 0h1m1 0h2m11 0h1m6 0h1m4 0h1m17 0h1m6 0h1m6 0h1m16 0h1m6 0h1m10 0h1m16 0h1m6 0h1m34 0h1m67 0h1m7 0h1m49 0h1M121 58.5h1m10 0h2m9 0h1m1 0h1m7 0h1m2 0h1m3 0h1m3 0h1m6 0h1m2 0h3m2 0h2m5 0h1m23 0h1m12 0h1m25 0h1M125 59.5h1m4 0h1m1 0h2m2 0h2m3 0h2m1 0h2m2 0h1m1 0h3m2 0h1m1 0h2m3 0h1m1 0h1m8 0h1m7 0h1m4 0h1m2 0h1m17 0h1m6 0h1m3 0h1m6 0h1m8 0h1m30 0h1m10 0h1m10 0h1m107 0h1m71 0h1M117 60.5h1m8 0h1m4 0h2m1 0h1m2 0h1m2 0h1m2 0h1m1 0h2m2 0h1m1 0h2m2 0h2m6 0h2m3 0h1m1 0h1m3 0h2m5 0h1m3 0h1m6 0h1m1 0h1m2 0h2m10 0h1m1 0h1m2 0h1m11 0h1m1 0h1m6 0h1m15 0h1m20 0h1m3 0h1m5 0h1m16 0h1M123 61.5h1m1 0h1m2 0h1m1 0h1m3 0h2m1 0h1m3 0h1m5 0h1m1 0h1m2 0h1m4 0h2m1 0h1m4 0h1m22 0h1m11 0h1m17 0h1m5 0h1m11 0h1m14 0h1m1 0h1m6 0h1M120 62.5h1m12 0h1m1 0h1m1 0h1m2 0h1m2 0h1m1 0h2m1 0h1m1 0h3m2 0h2m2 0h1m1 0h1m4 0h1m4 0h1m5 0h1m3 0h1m2 0h2m5 0h1m2 0h1m4 0h1m1 0h1m1 0h1m11 0h1m3 0h1m4 0h1m6 0h1m3 0h1m5 0h1m4 0h1m2 0h1m1 0h1m9 0h1m5 0h1m10 0h3m14 0h1m35 0h1m1 0h1m57 0h1m64 0h1m6 0h1M118 63.5h1m6 0h1m8 0h2m4 0h4m1 0h1m4 0h1m14 0h1m1 0h1m4 0h1m4 0h1m8 0h2m4 0h1m57 0h1m10 0h1m1 0h1m6 0h1m41 0h1M123 64.5h2m3 0h1m2 0h1m2 0h1m1 0h1m1 0h2m1 0h4m2 0h2m2 0h1m4 0h1m1 0h1m2 0h1m2 0h1m1 0h1m4 0h2m1 0h1m7 0h1m4 0h1m5 0h1m1 0h1m12 0h1m5 0h1m1 0h1m4 0h1m7 0h1m12 0h1m1 0h1m33 0h1m12 0h1m10 0h1m49 0h1M125 65.5h1m3 0h1m1 0h1m2 0h1m4 0h1m10 0h1m15 0h1m31 0h1m9 0h1m1 0h1m14 0h1m92 0h1m82 0h1M121 66.5h2m4 0h1m5 0h1m2 0h1m4 0h2m1 0h2m2 0h1m1 0h2m2 0h2m1 0h2m2 0h1m1 0h2m2 0h1m14 0h1m4 0h1m9 0h1m7 0h1m9 0h1m6 0h1m1 0h1m2 0h3m11 0h2m5 0h1m10 0h1m1 0h1m3 0h1m69 0h1M122 67.5h1m13 0h2m7 0h1m9 0h1m6 0h5m4 0h2m5 0h1m5 0h1m9 0h1m14 0h1m3 0h1m2 0h1m2 0h1m5 0h1m3 0h1m4 0h1m8 0h1m3 0h1m9 0h1m42 0h1m10 0h1m120 0h1M123 68.5h1m5 0h2m3 0h1m6 0h1m3 0h1m1 0h1m2 0h1m4 0h1m2 0h1m1 0h1m7 0h1m4 0h2m4 0h2m3 0h1m1 0h2m4 0h1m1 0h1m1 0h1m5 0h1m2 0h2m9 0h2m29 0h1m5 0h1m39 0h1m11 0h1M122 69.5h1m1 0h1m2 0h1m5 0h1m1 0h1m1 0h2m1 0h1m1 0h1m2 0h1m1 0h1m1 0h1m3 0h1m1 0h1m1 0h1m3 0h2m7 0h1m2 0h1m6 0h1m3 0h1m7 0h1m1 0h2m5 0h1m2 0h2m1 0h1m4 0h2m12 0h1m10 0h1m35 0h1m24 0h1m34 0h1M133 70.5h1m6 0h1m19 0h1m4 0h1m11 0h1m2 0h1m11 0h1m1 0h1m9 0h1m31 0h1m15 0h1m9 0h1m54 0h1M117 71.5h1m2 0h1m13 0h2m2 0h1m1 0h1m3 0h1m3 0h1m4 0h2m7 0h2m2 0h2m2 0h1m1 0h1m2 0h2m3 0h1m2 0h1m4 0h1m4 0h2m7 0h2m7 0h1m5 0h1m3 0h2m3 0h1m7 0h1m34 0h1m22 0h1m11 0h1m23 0h1m76 0h1M122 72.5h1m2 0h1m3 0h2m3 0h1m2 0h1m3 0h3m2 0h1m3 0h3m1 0h1m1 0h1m3 0h1m2 0h3m10 0h4m12 0h2m1 0h1m2 0h1m2 0h1m12 0h1m20 0h1m11 0h1m2 0h1m10 0h1m1 0h1m10 0h1m16 0h1m4 0h1m54 0h1M125 73.5h1m7 0h1m1 0h1m1 0h1m3 0h1m1 0h1m3 0h3m1 0h2m2 0h2m2 0h2m5 0h1m6 0h1m2 0h1m11 0h2m37 0h1m7 0h2m17 0h1m18 0h1m67 0h1m22 0h1M120 74.5h1m12 0h2m6 0h1m1 0h1m3 0h1m2 0h1m2 0h3m1 0h1m2 0h1m1 0h1m9 0h2m5 0h1m1 0h1m18 0h2m31 0h2m2 0h1m17 0h1m23 0h1m20 0h1m5 0h1m20 0h1M117 75.5h1m4 0h1m2 0h1m3 0h1m1 0h2m2 0h1m2 0h1m4 0h1m3 0h3m2 0h5m6 0h1m3 0h1m1 0h1m3 0h1m1 0h1m1 0h1m9 0h1m2 0h1m10 0h1m5 0h1m2 0h1m1 0h1m2 0h1m8 0h1m39 0h1M116 76.5h1m7 0h1m9 0h1m5 0h1m1 0h1m1 0h2m5 0h1m9 0h1m14 0h1m1 0h1m1 0h1m10 0h1m12 0h1m1 0h1m11 0h2m24 0h1m1 0h1m5 0h1m19 0h1M119 77.5h1m8 0h1m3 0h1m1 0h2m5 0h1m3 0h1m5 0h1m8 0h1m5 0h1m5 0h1m28 0h1m6 0h1m5 0h1m14 0h1m1 0h1m13 0h1m27 0h1M117 78.5h1m7 0h1m5 0h3m1 0h2m3 0h1m2 0h3m5 0h3m7 0h1m3 0h1m3 0h1m2 0h1m3 0h1m5 0h1m2 0h1m8 0h1m14 0h1m5 0h2m11 0h1m6 0h2m7 0h1m19 0h1m5 0h1m1 0h1m13 0h1m30 0h1" stroke="#c33128"/><path d="M0 0.5h90m1 0h26m1 0h2m1 0h1m1 0h3m1 0h1m1 0h1m3 0h1m4 0h1m3 0h2m3 0h2m8 0h1m18 0h1m27 0h1m6 0h1m10 0h1m3 0h1m3 0h1m1 0h1m29 0h1m71 0h1m104 0h1M0 1.5h80m1 0h4m1 0h4m2 0h3m2 0h3m5 0h1m1 0h6m1 0h1m1 0h3m2 0h2m2 0h1m2 0h1m88 0h1M0 2.5h99m1 0h3m1 0h1m1 0h6m1 0h4m3 0h3m1 0h1m2 0h1m2 0h1m7 0h1m3 0h2m18 0h1m9 0h2m7 0h1m26 0h1m32 0h1M0 3.5h68m1 0h11m1 0h6m1 0h10m1 0h1m1 0h7m1 0h6m1 0h2m6 0h1m1 0h3m2 0h1m5 0h1m1 0h1m1 0h1m50 0h1m57 0h1m96 0h1M0 4.5h83m1 0h11m1 0h13m1 0h2m2 0h3m7 0h1m7 0h1m4 0h1m30 0h1m1 0h1m26 0h1m6 0h1m1 0h1m44 0h1m13 0h1M0 5.5h93m1 0h14m1 0h6m1 0h1m2 0h2m1 0h1m3 0h1m3 0h1m2 0h1m8 0h1m4 0h1m10 0h1m4 0h1m17 0h1m6 0h1m5 0h1m9 0h1m4 0h1m3 0h1m235 0h1M0 6.5h96m1 0h9m1 0h10m6 0h2m1 0h1m1 0h3m11 0h1m9 0h1m4 0h1m3 0h1m11 0h1m13 0h2m20 0h1m1 0h1m3 0h1m41 0h1m1 0h1m32 0h1m26 0h1m8 0h1M0 7.5h121m1 0h3m5 0h1m2 0h1m1 0h1m13 0h1m3 0h1m2 0h1m6 0h1m11 0h1m6 0h1m1 0h1m8 0h1m11 0h1m3 0h1m19 0h1m22 0h1m2 0h1m7 0h1m22 0h1M0 8.5h119m2 0h1m1 0h9m1 0h1m3 0h1m2 0h2m7 0h2m1 0h1m3 0h1m14 0h1m1 0h1m13 0h3m3 0h1m18 0h1m30 0h1m6 0h1m2 0h1m3 0h1m3 0h1m46 0h1m20 0h1m29 0h1m107 0h1M0 9.5h99m1 0h21m3 0h3m3 0h3m5 0h1m3 0h1m3 0h1m28 0h1m3 0h1m10 0h1m6 0h1m5 0h1m13 0h1m1 0h1m4 0h1m11 0h1m16 0h1m38 0h1M0 10.5h117m1 0h7m1 0h2m1 0h2m2 0h3m5 0h2m5 0h1m3 0h1m10 0h1m14 0h1m4 0h2m3 0h1m3 0h1m2 0h1m4 0h1m3 0h1m8 0h1m2 0h1m4 0h2m4 0h1m2 0h1m9 0h1m1 0h1m127 0h1M0 11.5h102m1 0h3m1 0h2m1 0h10m1 0h3m2 0h2m3 0h2m2 0h1m10 0h1m2 0h1m5 0h1m2 0h1m1 0h3m10 0h1m5 0h1m2 0h1m2 0h1m8 0h1m1 0h1m7 0h1m19 0h1m15 0h1m33 0h1m23 0h1m13 0h1m2 0h1m46 0h1M0 12.5h70m1 0h3m1 0h3m1 0h1m2 0h1m5 0h1m7 0h2m6 0h2m2 0h1m5 0h1m16 0h1m17 0h2m14 0h1m148 0h1M0 13.5h92m1 0h6m2 0h7m1 0h2m2 0h2m1 0h2m1 0h1m1 0h1m1 0h1m2 0h1m4 0h1m1 0h2m1 0h1m4 0h1m3 0h1m5 0h1m2 0h1m9 0h1m8 0h1m17 0h1m6 0h2m6 0h1m17 0h1m110 0h1m14 0h1M0 14.5h83m1 0h3m1 0h3m1 0h12m1 0h4m1 0h2m1 0h2m1 0h3m3 0h1m2 0h2m1 0h1m5 0h1m35 0h1m10 0h1m3 0h1m57 0h1M0 15.5h118m1 0h2m1 0h1m2 0h1m2 0h1m1 0h1m5 0h1m1 0h1m2 0h1m2 0h1m1 0h5m1 0h1m7 0h1m6 0h1m6 0h1m2 0h1m2 0h1m9 0h1m1 0h1m7 0h1m7 0h1m3 0h1m5 0h1m2 0h1m7 0h1m5 0h1m20 0h1m60 0h1M0 16.5h73m3 0h2m5 0h2m2 0h1m3 0h1m7 0h2m1 0h3m3 0h1m1 0h1m4 0h2m17 0h1m31 0h1m7 0h1m31 0h1m23 0h1m2 0h1m30 0h1M0 17.5h124m2 0h2m6 0h2m1 0h1m4 0h1m2 0h1m1 0h1m1 0h1m1 0h1m16 0h3m4 0h1m15 0h1m12 0h1m7 0h1m1 0h1m1 0h1m6 0h1m29 0h1m15 0h1m2 0h1M0 18.5h74m1 0h12m1 0h11m1 0h5m3 0h2m1 0h3m1 0h2m1 0h1m1 0h1m2 0h2m1 0h1m4 0h1m5 0h1m7 0h1m26 0h1m25 0h1m10 0h1m5 0h1m31 0h1m37 0h1M0 19.5h106m1 0h1m1 0h2m2 0h7m1 0h3m1 0h4m1 0h2m1 0h3m3 0h2m3 0h3m3 0h2m4 0h1m6 0h1m5 0h1m1 0h1m5 0h1m5 0h1m3 0h2m9 0h1m19 0h1m27 0h1m33 0h2m16 0h2M0 20.5h95m1 0h26m2 0h2m1 0h1m1 0h1m5 0h1m2 0h1m8 0h2m1 0h1m7 0h2m2 0h2m9 0h1m4 0h2m4 0h2m21 0h1m3 0h1m5 0h1m1 0h1m2 0h1m7 0h1m35 0h1m79 0h1M0 21.5h108m1 0h19m1 0h4m3 0h2m4 0h1m3 0h2m3 0h1m2 0h1m8 0h1m8 0h1m2 0h1m2 0h1m5 0h1m10 0h1m2 0h1m2 0h1m4 0h1m17 0h1m3 0h1m28 0h1m15 0h1m7 0h2m1 0h1m28 0h1m29 0h1M0 22.5h112m1 0h5m2 0h1m1 0h1m3 0h2m1 0h1m1 0h4m1 0h1m1 0h1m1 0h1m2 0h1m2 0h2m6 0h1m5 0h1m8 0h1m11 0h1m57 0h1m34 0h1m14 0h1m5 0h1M0 23.5h70m3 0h1m4 0h1m1 0h1m3 0h1m1 0h1m2 0h1m10 0h1m1 0h2m5 0h1m20 0h1m2 0h1m56 0h1m28 0h1M0 24.5h115m1 0h1m1 0h1m2 0h1m1 0h1m1 0h1m6 0h1m2 0h3m2 0h1m1 0h3m9 0h1m4 0h1m16 0h1m21 0h2m2 0h1m24 0h1m34 0h1m9 0h1M0 25.5h83m1 0h3m1 0h18m1 0h1m5 0h2m2 0h1m1 0h1m2 0h2m2 0h2m1 0h1m13 0h1m2 0h1m4 0h2m19 0h1m12 0h1m40 0h1m3 0h1M0 26.5h105m1 0h2m1 0h8m1 0h2m3 0h1m2 0h1m1 0h1m1 0h2m6 0h1m3 0h1m14 0h1m3 0h1m6 0h1m1 0h1m5 0h1m4 0h1m1 0h1m1 0h1m4 0h1m29 0h1m27 0h1M0 27.5h96m1 0h8m2 0h7m3 0h1m4 0h1m7 0h1m3 0h2m7 0h1m7 0h1m11 0h3m13 0h1m119 0h1M0 28.5h81m1 0h7m2 0h10m1 0h4m1 0h3m1 0h1m1 0h4m1 0h1m1 0h1m4 0h1m2 0h1m1 0h1m1 0h2m1 0h1m11 0h1m1 0h1m5 0h2m21 0h1m24 0h1m12 0h1m12 0h1m31 0h1M0 29.5h53m5 0h1m24 0h1m15 0h1m5 0h1m39 0h1m66 0h1M0 30.5h96m2 0h12m1 0h9m2 0h1m2 0h1m1 0h1m4 0h1m6 0h2m3 0h1m4 0h1m21 0h1m14 0h1m18 0h1m5 0h1m9 0h1m8 0h1m13 0h1M0 31.5h107m1 0h2m1 0h5m3 0h2m3 0h2m2 0h1m1 0h2m6 0h1m3 0h2m4 0h1m10 0h1m14 0h3m12 0h1m4 0h1m50 0h1m24 0h1m17 0h1m3 0h1m11 0h1M0 32.5h73m2 0h1m1 0h2m1 0h1m1 0h1m2 0h1m1 0h3m4 0h1m1 0h2m1 0h1m5 0h1m1 0h1m6 0h1m3 0h2m3 0h1m5 0h1m8 0h2m2 0h1m27 0h1m55 0h1m92 0h1M0 33.5h122m1 0h1m1 0h1m1 0h1m1 0h1m3 0h3m1 0h1m3 0h1m2 0h2m15 0h1m4 0h1m1 0h1m7 0h2m7 0h1m3 0h1m17 0h2m5 0h2m3 0h1m1 0h1m4 0h1m24 0h1m3 0h1m6 0h1m11 0h1m2 0h1m11 0h2m40 0h1m6 0h1M0 34.5h102m1 0h10m1 0h5m6 0h3m55 0h1m128 0h1M0 35.5h116m1 0h7m1 0h2m1 0h3m1 0h2m1 0h1m3 0h3m2 0h1m4 0h1m4 0h2m4 0h1m23 0h2m1 0h1m1 0h1m1 0h1m5 0h1m47 0h1m5 0h1M0 36.5h111m1 0h5m1 0h1m2 0h4m3 0h2m1 0h2m1 0h1m2 0h1m1 0h1m5 0h1m7 0h1m2 0h1m1 0h1m2 0h1m1 0h1m4 0h1m5 0h2m11 0h1m1 0h1m31 0h1m15 0h1m15 0h1m71 0h1M0 37.5h89m1 0h10m1 0h14m1 0h1m1 0h2m1 0h2m2 0h1m6 0h2m6 0h1m7 0h1m1 0h1m11 0h1m5 0h1m34 0h1m26 0h1m38 0h1m25 0h1M0 38.5h88m1 0h18m1 0h5m1 0h7m2 0h3m3 0h3m1 0h1m1 0h2m4 0h2m4 0h1m1 0h1m2 0h1m1 0h1m14 0h1m5 0h2m11 0h2m2 0h1m2 0h2m7 0h1m15 0h1m34 0h1m20 0h1M0 39.5h113m1 0h4m3 0h2m2 0h1m2 0h4m1 0h2m2 0h1m2 0h1m1 0h1m4 0h1m3 0h1m2 0h1m1 0h1m3 0h1m5 0h1m4 0h1m9 0h1m49 0h1m26 0h1m4 0h1m97 0h1m63 0h1M0 40.5h86m2 0h1m1 0h7m1 0h1m2 0h3m1 0h2m1 0h2m1 0h2m1 0h1m1 0h1m1 0h1m2 0h2m2 0h2m9 0h1m6 0h1m1 0h2m25 0h1m32 0h1M0 41.5h100m1 0h17m2 0h3m1 0h1m4 0h2m4 0h2m3 0h2m7 0h1m2 0h1m8 0h1m2 0h1m4 0h1m6 0h1m2 0h1m1 0h1m2 0h1m14 0h1m5 0h1m11 0h1m4 0h1m64 0h1m1 0h1m77 0h1M0 42.5h91m1 0h9m1 0h1m1 0h2m1 0h4m1 0h10m2 0h5m1 0h1m2 0h3m20 0h4m22 0h1m57 0h1m45 0h1m158 0h1M0 43.5h60m1 0h4m1 0h16m1 0h3m1 0h2m1 0h5m1 0h2m2 0h1m1 0h1m2 0h1m3 0h4m5 0h1m2 0h1m4 0h1m5 0h1m11 0h1M0 44.5h96m1 0h11m1 0h4m1 0h6m3 0h1m31 0h1m2 0h1m17 0h1m11 0h1m7 0h1m47 0h1M0 45.5h88m1 0h5m1 0h4m1 0h2m1 0h5m2 0h1m1 0h3m2 0h1m1 0h4m4 0h2m1 0h1m6 0h2m2 0h1m7 0h1m21 0h1m11 0h1m1 0h1m168 0h1m69 0h1M0 46.5h98m1 0h17m1 0h2m1 0h2m1 0h2m1 0h1m1 0h1m2 0h1m3 0h1m1 0h4m5 0h1m1 0h3m3 0h1m4 0h1m9 0h1m2 0h1m4 0h1m5 0h1m5 0h1m16 0h1m2 0h2m6 0h1m1 0h1m34 0h1m7 0h1m9 0h1m21 0h1m8 0h1m148 0h1M0 47.5h117m1 0h1m2 0h4m1 0h1m1 0h2m1 0h1m4 0h1m1 0h1m1 0h3m1 0h1m2 0h1m3 0h1m1 0h1m4 0h1m17 0h4m5 0h1m3 0h2m3 0h2m3 0h1m3 0h1m8 0h1m10 0h1m8 0h1m2 0h1m4 0h1m11 0h1m22 0h1m32 0h1m24 0h1m66 0h1M0 48.5h118m1 0h6m3 0h1m1 0h1m2 0h5m1 0h1m2 0h1m3 0h1m1 0h1m10 0h1m3 0h1m8 0h1m40 0h1m12 0h1m3 0h1m47 0h1M0 49.5h116m2 0h2m6 0h1m1 0h3m9 0h2m9 0h1m8 0h2m11 0h1m1 0h1m12 0h1m7 0h1m15 0h1m1 0h1m7 0h1m33 0h1m43 0h1M0 50.5h64m1 0h15m1 0h12m1 0h1m1 0h5m6 0h2m1 0h1m1 0h1m2 0h1m1 0h1m1 0h2m29 0h1m43 0h1m1 0h1m14 0h1m25 0h1m25 0h1m15 0h1M0 51.5h105m2 0h5m1 0h4m2 0h6m1 0h1m4 0h1m2 0h2m1 0h2m1 0h1m9 0h1m6 0h1m4 0h1m15 0h1m36 0h1m35 0h1m11 0h1m12 0h1m61 0h1m81 0h1M0 52.5h109m1 0h5m1 0h5m7 0h3m1 0h1m3 0h2m1 0h2m9 0h1m2 0h1m1 0h1m1 0h1m1 0h1m3 0h1m17 0h1m23 0h1m34 0h1m1 0h1m9 0h1m111 0h1M0 53.5h111m3 0h2m1 0h6m1 0h1m3 0h1m2 0h4m11 0h2m2 0h1m12 0h1m3 0h2m12 0h1m16 0h1m1 0h1m1 0h1m9 0h1m14 0h1m40 0h1m30 0h1M0 54.5h94m1 0h8m1 0h2m1 0h1m1 0h7m1 0h1m1 0h1m1 0h1m13 0h1m1 0h1m1 0h1m9 0h1m5 0h1m42 0h1m20 0h1M0 55.5h105m2 0h6m1 0h1m1 0h1m1 0h3m3 0h2m8 0h2m1 0h2m3 0h1m3 0h1m16 0h1m1 0h1m7 0h1m12 0h1m131 0h1M0 56.5h88m1 0h13m1 0h5m1 0h1m1 0h2m1 0h2m1 0h2m2 0h1m1 0h1m6 0h1m7 0h2m6 0h1m1 0h1m1 0h1m3 0h1m2 0h1m11 0h1m6 0h1m1 0h1m1 0h1m33 0h1m82 0h1m53 0h1M0 57.5h108m1 0h4m2 0h3m1 0h1m6 0h2m3 0h2m1 0h2m3 0h2m1 0h2m16 0h1m9 0h1m19 0h1m16 0h1m8 0h1m21 0h1m9 0h1m80 0h1M0 58.5h67m1 0h25m1 0h10m1 0h1m1 0h8m1 0h4m7 0h2m1 0h2m7 0h1m10 0h1m8 0h1m30 0h1m2 0h1m3 0h1m30 0h1m65 0h1m26 0h1M0 59.5h112m1 0h1m1 0h4m1 0h1m2 0h2m2 0h3m1 0h1m6 0h1m1 0h1m2 0h1m3 0h1m5 0h1m5 0h2m6 0h1m2 0h1m1 0h1m1 0h1m4 0h1m13 0h1m7 0h1m4 0h1m1 0h1m6 0h2m19 0h1m16 0h1m14 0h1m14 0h1M0 60.5h106m1 0h10m1 0h7m4 0h2m2 0h1m1 0h2m1 0h1m8 0h1m9 0h1m15 0h1m2 0h1m6 0h1m15 0h1m3 0h1m16 0h1m11 0h1m10 0h1m6 0h1m19 0h1m18 0h1M0 61.5h84m1 0h19m1 0h5m1 0h9m1 0h2m3 0h2m1 0h1m1 0h1m7 0h1m4 0h3m8 0h2m9 0h1m2 0h1m3 0h1m1 0h1m5 0h1m10 0h1m20 0h1m36 0h1m25 0h1m25 0h1m41 0h1M0 62.5h114m1 0h5m2 0h2m1 0h4m1 0h3m1 0h1m1 0h1m2 0h1m1 0h2m1 0h1m2 0h1m9 0h1m7 0h1m3 0h2m1 0h2m4 0h2m2 0h1m5 0h1m6 0h1m1 0h1m12 0h1m7 0h1m6 0h2m10 0h1m18 0h1m52 0h1m85 0h1M0 63.5h96m1 0h6m1 0h11m1 0h1m2 0h5m2 0h4m1 0h1m1 0h1m3 0h1m10 0h1m3 0h2m1 0h1m10 0h1m11 0h1m23 0h1m2 0h1m8 0h1m15 0h1m1 0h1m14 0h1M0 64.5h90m1 0h17m1 0h10m1 0h3m2 0h3m1 0h2m1 0h2m12 0h1m2 0h1m5 0h1m7 0h1m4 0h2m10 0h1m5 0h1m5 0h1m3 0h2m1 0h1m3 0h1m19 0h1m21 0h1m20 0h1m2 0h1m15 0h1m23 0h1m104 0h1M0 65.5h80m1 0h3m1 0h5m1 0h1m1 0h4m1 0h10m3 0h2m8 0h2m3 0h1m6 0h1m1 0h2m1 0h1m2 0h1m3 0h1m13 0h1m3 0h1m7 0h1m55 0h1M0 66.5h79m1 0h28m1 0h7m1 0h1m6 0h1m1 0h1m1 0h3m4 0h1m3 0h1m3 0h1m2 0h1m9 0h1m3 0h1m1 0h1m15 0h1m9 0h1m31 0h1m4 0h1m13 0h1m13 0h1m3 0h1m23 0h1M0 67.5h76m1 0h16m1 0h12m1 0h1m1 0h3m1 0h1m1 0h3m1 0h1m1 0h1m1 0h1m3 0h1m5 0h1m8 0h2m25 0h2m3 0h1m52 0h1M0 68.5h78m1 0h5m1 0h18m1 0h3m1 0h8m1 0h6m1 0h2m1 0h2m2 0h1m5 0h1m1 0h1m2 0h2m7 0h1m1 0h1m2 0h2m25 0h1m11 0h1m23 0h2m25 0h1M0 69.5h81m1 0h13m1 0h10m1 0h4m1 0h6m1 0h1m1 0h1m1 0h1m1 0h2m1 0h1m1 0h1m1 0h1m10 0h2m7 0h1m1 0h1m1 0h1m7 0h1m3 0h1m8 0h1m7 0h1m23 0h1m62 0h1m11 0h1M0 70.5h58m1 0h31m1 0h3m1 0h2m1 0h4m6 0h4m3 0h1m1 0h2m1 0h1m1 0h2m6 0h1m4 0h1m3 0h1m1 0h1m2 0h1m31 0h1m28 0h1M0 71.5h96m1 0h9m1 0h10m2 0h1m1 0h2m1 0h7m1 0h1m4 0h1m1 0h1m1 0h1m1 0h1m1 0h1m12 0h3m3 0h2m19 0h2m14 0h1m12 0h1m25 0h1m7 0h1m172 0h1M0 72.5h118m1 0h3m1 0h2m1 0h1m5 0h2m1 0h2m2 0h2m4 0h1m1 0h3m3 0h1m4 0h1m7 0h1m16 0h1m13 0h1m2 0h1m4 0h1m18 0h1m3 0h1m48 0h1m85 0h1M0 73.5h89m1 0h9m1 0h11m1 0h10m1 0h2m1 0h1m1 0h1m1 0h3m1 0h1m5 0h1m3 0h1m1 0h1m21 0h1m28 0h1m1 0h1m31 0h1m6 0h1m7 0h1m3 0h1m37 0h1m2 0h1M0 74.5h53m1 0h26m1 0h4m1 0h2m1 0h21m1 0h3m1 0h3m1 0h1m1 0h2m1 0h2m1 0h1m3 0h2m3 0h2m6 0h2m2 0h2m1 0h2m17 0h1m3 0h1m9 0h1m3 0h1m1 0h1m22 0h1m16 0h1m10 0h1m81 0h1M0 75.5h78m1 0h21m1 0h6m1 0h1m1 0h7m1 0h4m1 0h2m3 0h1m8 0h1m1 0h1m2 0h1m8 0h1m7 0h1m2 0h1m1 0h1m31 0h1m2 0h1m50 0h1m23 0h1M0 76.5h86m2 0h2m1 0h17m1 0h4m1 0h1m2 0h4m2 0h1m2 0h4m5 0h1m1 0h1m9 0h1m2 0h1m16 0h1m3 0h2m13 0h1m2 0h1m36 0h1m13 0h1m34 0h1m5 0h1m42 0h1m16 0h1M0 77.5h72m1 0h20m1 0h19m2 0h4m1 0h2m2 0h1m1 0h2m1 0h1m1 0h1m5 0h1m5 0h1m3 0h1m4 0h1m17 0h1m13 0h1m7 0h1m4 0h1m27 0h1m16 0h1M0 78.5h104m1 0h12m1 0h2m1 0h3m2 0h3m1 0h1m3 0h1m3 0h1m3 0h1m3 0h1m3 0h1m3 0h1m1 0h1m1 0h1m5 0h1m8 0h1m5 0h1m4 0h1m4 0h1m10 0h2m11 0h1m76 0h1m22 0h1m46 0h1" stroke="#ee382c"/></g></g></g></g>
<path d="M45.44 39V214.8M46.88 39V214.8M48.31 39V214.8M49.75 39V214.8M51.19 39V214.8M52.63 39V214.8M54.07 39V214.8M55.51 39V214.8M56.94 39V214.8M58.38 39V214.8M59.82 39V214.8M61.26 39V214.8M62.7 39V214.8M64.13 39V214.8M65.57 39V214.8M67.01 39V214.8M68.45 39V214.8M69.89 39V214.8M71.32 39V214.8M72.76 39V214.8M74.2 39V214.8M75.64 39V214.8M77.08 39V214.8M78.52 39V214.8M79.95 39V214.8M81.39 39V214.8M82.83 39V214.8M84.27 39V214.8M85.71 39V214.8M87.14 39V214.8M88.58 39V214.8M90.02 39V214.8M91.46 39V214.8M92.9 39V214.8M94.34 39V214.8M95.77 39V214.8M97.21 39V214.8M98.65 39V214.8M100.09 39V214.8M101.53 39V214.8M102.96 39V214.8M104.4 39V214.8M105.84 39V214.8M107.28 39V214.8M108.72 39V214.8M110.16 39V214.8M111.59 39V214.8M113.03 39V214.8M114.47 39V214.8M115.91 39V214.8M117.35 39V214.8M118.78 39V214.8M120.22 39V214.8M121.66 39V214.8M123.1 39V214.8M124.54 39V214.8M125.97 39V214.8M127.41 39V214.8M128.85 39V214.8M130.29 39V214.8M131.73 39V214.8M133.17 39V214.8M134.6 39V214.8M136.04 39V214.8M137.48 39V214.8M138.92 39V214.8M140.36 39V214.8M141.79 39V214.8M143.23 39V214.8M144.67 39V214.8M146.11 39V214.8M147.55 39V214.8M148.99 39V214.8M150.42 39V214.8M151.86 39V214.8M153.3 39V214.8M154.74 39V214.8M156.18 39V214.8M157.61 39V214.8M159.05 39V214.8M160.49 39V214.8M161.93 39V214.8M163.37 39V214.8M164.8 39V214.8M166.24 39V214.8M167.68 39V214.8M169.12 39V214.8M170.56 39V214.8M172 39V214.8M173.43 39V214.8M174.87 39V214.8M176.31 39V214.8M177.75 39V214.8M179.19 39V214.8M180.62 39V214.8M182.06 39V214.8M183.5 39V214.8M184.94 39V214.8M186.38 39V214.8M187.82 39V214.8M189.25 39V214.8M190.69 39V214.8M192.13 39V214.8M193.57 39V214.8M195.01 39V214.8M196.44 39V214.8M197.88 39V214.8M199.32 39V214.8M200.76 39V214.8M202.2 39V214.8M203.64 39V214.8M205.07 39V214.8M206.51 39V214.8M207.95 39V214.8M209.39 39V214.8M210.83 39V214.8M212.26 39V214.8M213.7 39V214.8M215.14 39V214.8M216.58 39V214.8M218.02 39V214.8M219.45 39V214.8M220.89 39V214.8M222.33 39V214.8M223.77 39V214.8M225.21 39V214.8M226.65 39V214.8M228.08 39V214.8M229.52 39V214.8M230.96 39V214.8M232.4 39V214.8M233.84 39V214.8M235.27 39V214.8M236.71 39V214.8M238.15 39V214.8M239.59 39V214.8M241.03 39V214.8M242.47 39V214.8M243.9 39V214.8M245.34 39V214.8M246.78 39V214.8M248.22 39V214.8M249.66 39V214.8M251.09 39V214.8M252.53 39V214.8M253.97 39V214.8M255.41 39V214.8M256.85 39V214.8M258.28 39V214.8M259.72 39V214.8M261.16 39V214.8M262.6 39V214.8M264.04 39V214.8M265.48 39V214.8M266.91 39V214.8M268.35 39V214.8M269.79 39V214.8M271.23 39V214.8M272.67 39V214.8M274.1 39V214.8M275.54 39V214.8M276.98 39V214.8M278.42 39V214.8M279.86 39V214.8M281.3 39V214.8M282.73 39V214.8M284.17 39V214.8M285.61 39V214.8M287.05 39V214.8M288.49 39V214.8M289.92 39V214.8M291.36 39V214.8M292.8 39V214.8M294.24 39V214.8M295.68 39V214.8M297.12 39V214.8M298.55 39V214.8M299.99 39V214.8M301.43 39V214.8M302.87 39V214.8M304.31 39V214.8M305.74 39V214.8M307.18 39V214.8M308.62 39V214.8M310.06 39V214.8M311.5 39V214.8M312.93 39V214.8M314.37 39V214.8M315.81 39V214.8M317.25 39V214.8M318.69 39V214.8M320.13 39V214.8M321.56 39V214.8M323 39V214.8M324.44 39V214.8M325.88 39V214.8M327.32 39V214.8M328.75 39V214.8M330.19 39V214.8M331.63 39V214.8M333.07 39V214.8M334.51 39V214.8M335.95 39V214.8M337.38 39V214.8M338.82 39V214.8M340.26 39V214.8M341.7 39V214.8M343.14 39V214.8M344.57 39V214.8M346.01 39V214.8M347.45 39V214.8M348.89 39V214.8M350.33 39V214.8M351.76 39V214.8M353.2 39V214.8M354.64 39V214.8M356.08 39V214.8M357.52 39V214.8M358.96 39V214.8M360.39 39V214.8M361.83 39V214.8M363.27 39V214.8M364.71 39V214.8M366.15 39V214.8M367.58 39V214.8M369.02 39V214.8M370.46 39V214.8M371.9 39V214.8M373.34 39V214.8M374.78 39V214.8M376.21 39V214.8M377.65 39V214.8M379.09 39V214.8M380.53 39V214.8M381.97 39V214.8M383.4 39V214.8M384.84 39V214.8M386.28 39V214.8M387.72 39V214.8M389.16 39V214.8M390.6 39V214.8M392.03 39V214.8M393.47 39V214.8M394.91 39V214.8M396.35 39V214.8M397.79 39V214.8M399.22 39V214.8M400.66 39V214.8M402.1 39V214.8M403.54 39V214.8M404.98 39V214.8M406.41 39V214.8M407.85 39V214.8M409.29 39V214.8M410.73 39V214.8M412.17 39V214.8M413.61 39V214.8M415.04 39V214.8M416.48 39V214.8M417.92 39V214.8M419.36 39V214.8M420.8 39V214.8M422.23 39V214.8M423.67 39V214.8M425.11 39V214.8M426.55 39V214.8M427.99 39V214.8M429.43 39V214.8M430.86 39V214.8M432.3 39V214.8M433.74 39V214.8M435.18 39V214.8M436.62 39V214.8M438.05 39V214.8M439.49 39V214.8M440.93 39V214.8M442.37 39V214.8M443.81 39V214.8M445.24 39V214.8M446.68 39V214.8M448.12 39V214.8M449.56 39V214.8M451 39V214.8M452.44 39V214.8M453.87 39V214.8M455.31 39V214.8M456.75 39V214.8M458.19 39V214.8M459.63 39V214.8M461.06 39V214.8M462.5 39V214.8M463.94 39V214.8M465.38 39V214.8M466.82 39V214.8M468.26 39V214.8M469.69 39V214.8M471.13 39V214.8M472.57 39V214.8M474.01 39V214.8M475.45 39V214.8M476.88 39V214.8M478.32 39V214.8M479.76 39V214.8M481.2 39V214.8M482.64 39V214.8M484.08 39V214.8M485.51 39V214.8M486.95 39V214.8M488.39 39V214.8M489.83 39V214.8M491.27 39V214.8M492.7 39V214.8M494.14 39V214.8M495.58 39V214.8M497.02 39V214.8M498.46 39V214.8M499.89 39V214.8M501.33 39V214.8M502.77 39V214.8M504.21 39V214.8M505.65 39V214.8M507.09 39V214.8M508.52 39V214.8M509.96 39V214.8M44 41.23H511.4M44 43.45H511.4M44 45.68H511.4M44 47.9H511.4M44 50.13H511.4M44 52.35H511.4M44 54.58H511.4M44 56.8H511.4M44 59.03H511.4M44 61.25H511.4M44 63.48H511.4M44 65.7H511.4M44 67.93H511.4M44 70.15H511.4M44 72.38H511.4M44 74.61H511.4M44 76.83H511.4M44 79.06H511.4M44 81.28H511.4M44 83.51H511.4M44 85.73H511.4M44 87.96H511.4M44 90.18H511.4M44 92.41H511.4M44 94.63H511.4M44 96.86H511.4M44 99.08H511.4M44 101.31H511.4M44 103.53H511.4M44 105.76H511.4M44 107.98H511.4M44 110.21H511.4M44 112.44H511.4M44 114.66H511.4M44 116.89H511.4M44 119.11H511.4M44 121.34H511.4M44 123.56H511.4M44 125.79H511.4M44 128.01H511.4M44 130.24H511.4M44 132.46H511.4M44 134.69H511.4M44 136.91H511.4M44 139.14H511.4M44 141.36H511.4M44 143.59H511.4M44 145.82H511.4M44 148.04H511.4M44 150.27H511.4M44 152.49H511.4M44 154.72H511.4M44 156.94H511.4M44 159.17H511.4M44 161.39H511.4M44 163.62H511.4M44 165.84H511.4M44 168.07H511.4M44 170.29H511.4M44 172.52H511.4M44 174.74H511.4M44 176.97H511.4M44 179.19H511.4M44 181.42H511.4M44 183.65H511.4M44 185.87H511.4M44 188.1H511.4M44 190.32H511.4M44 192.55H511.4M44 194.77H511.4M44 197H511.4M44 199.22H511.4M44 201.45H511.4M44 203.67H511.4M44 205.9H511.4M44 208.12H511.4M44 210.35H511.4M44 212.57H511.4" stroke="#fff" stroke-opacity=".055" stroke-width=".7" fill="none"/>
<path d="M253.6 352.4L253.6 257A95.4 95.4 0 0 1 336.55 305.28Z" fill="#c4122f" stroke="#c4122f" stroke-width=".4"/><path d="M253.6 352.4L336.55 305.28A95.4 95.4 0 0 1 344.88 324.67Z" fill="#13507f" stroke="#13507f" stroke-width=".4"/><path d="M253.6 352.4L344.88 324.67A95.4 95.4 0 0 1 348.42 341.93Z" fill="#3bb54a" stroke="#3bb54a" stroke-width=".4"/><path d="M253.6 352.4L348.42 341.93A95.4 95.4 0 0 1 348.51 362.04Z" fill="#5a246d" stroke="#5a246d" stroke-width=".4"/><path d="M253.6 352.4L348.51 362.04A95.4 95.4 0 0 1 342.36 387.36Z" fill="#fd8c08" stroke="#fd8c08" stroke-width=".4"/><path d="M253.6 352.4L342.36 387.36A95.4 95.4 0 0 1 322.46 418.43Z" fill="#00664f" stroke="#00664f" stroke-width=".4"/><path d="M253.6 352.4L322.46 418.43A95.4 95.4 0 0 1 264.9 447.13Z" fill="#8781bd" stroke="#8781bd" stroke-width=".4"/><path d="M253.6 352.4L264.9 447.13A95.4 95.4 0 0 1 190.39 423.85Z" fill="#465466" stroke="#465466" stroke-width=".4"/><path d="M253.6 352.4L190.39 423.85A95.4 95.4 0 0 1 253.6 257Z" fill="#29abe2" stroke="#29abe2" stroke-width=".4"/>
<rect x="374.9" y="257.2" width="7.3" height="7.3" fill="#c4122f"/><text transform="translate(385.6,263.95) scale(1.11,1)" font-size="9.5">70–79</text><rect x="374.9" y="270.1" width="7.3" height="7.3" fill="#13507f"/><text transform="translate(385.6,276.85) scale(1.11,1)" font-size="9.5">60–69</text><rect x="374.9" y="283" width="7.3" height="7.3" fill="#3bb54a"/><text transform="translate(385.6,289.75) scale(1.11,1)" font-size="9.5">50–59</text><rect x="374.9" y="295.9" width="7.3" height="7.3" fill="#5a246d"/><text transform="translate(385.6,302.65) scale(1.11,1)" font-size="9.5">40–49</text><rect x="374.9" y="308.8" width="7.3" height="7.3" fill="#fd8c08"/><text transform="translate(385.6,315.55) scale(1.11,1)" font-size="9.5">30–39</text><rect x="374.9" y="321.7" width="7.3" height="7.3" fill="#00664f"/><text transform="translate(385.6,328.45) scale(1.11,1)" font-size="9.5">20–29</text><rect x="374.9" y="334.6" width="7.3" height="7.3" fill="#8781bd"/><text transform="translate(385.6,341.35) scale(1.11,1)" font-size="9.5">10–19</text><rect x="374.9" y="347.5" width="7.3" height="7.3" fill="#465466"/><text transform="translate(385.6,354.25) scale(1.11,1)" font-size="9.5">5–9</text><rect x="374.9" y="360.4" width="7.3" height="7.3" fill="#29abe2"/><text transform="translate(385.6,367.15) scale(1.11,1)" font-size="9.5">1–4</text>
<g fill="#c8102e"><rect x="64.2" y="514" width="4.05" height="193.95"/><rect x="69.84" y="516.9" width="4.05" height="191.05"/><rect x="75.47" y="521.3" width="4.05" height="186.65"/><rect x="81.11" y="536.9" width="4.05" height="171.05"/><rect x="86.75" y="537.7" width="4.05" height="170.25"/><rect x="92.38" y="538.5" width="4.05" height="169.45"/><rect x="98.02" y="539.2" width="4.05" height="168.75"/><rect x="103.66" y="540.2" width="4.05" height="167.75"/><rect x="109.29" y="541.7" width="4.05" height="166.25"/><rect x="114.93" y="542.3" width="4.05" height="165.65"/><rect x="120.56" y="546.9" width="4.05" height="161.05"/><rect x="126.2" y="553.1" width="4.05" height="154.85"/><rect x="131.84" y="553.8" width="4.05" height="154.15"/><rect x="137.47" y="556.3" width="4.05" height="151.65"/><rect x="143.11" y="557.1" width="4.05" height="150.85"/><rect x="148.75" y="558.7" width="4.05" height="149.25"/><rect x="154.38" y="559.5" width="4.05" height="148.45"/><rect x="160.02" y="561.2" width="4.05" height="146.75"/><rect x="165.66" y="562.3" width="4.05" height="145.65"/><rect x="171.29" y="562.3" width="4.05" height="145.65"/><rect x="176.93" y="562.9" width="4.05" height="145.05"/><rect x="182.57" y="564.4" width="4.05" height="143.55"/><rect x="188.2" y="565.6" width="4.05" height="142.35"/><rect x="193.84" y="568.1" width="4.05" height="139.85"/><rect x="199.48" y="568.3" width="4.05" height="139.65"/><rect x="205.11" y="568.3" width="4.05" height="139.65"/><rect x="210.75" y="568.8" width="4.05" height="139.15"/><rect x="216.39" y="569.4" width="4.05" height="138.55"/><rect x="222.02" y="570" width="4.05" height="137.95"/><rect x="227.66" y="573.1" width="4.05" height="134.85"/><rect x="233.3" y="573.1" width="4.05" height="134.85"/><rect x="238.93" y="573.1" width="4.05" height="134.85"/><rect x="244.57" y="574.2" width="4.05" height="133.75"/><rect x="250.2" y="575" width="4.05" height="132.95"/><rect x="255.84" y="575" width="4.05" height="132.95"/><rect x="261.48" y="576.2" width="4.05" height="131.75"/><rect x="267.11" y="576.9" width="4.05" height="131.05"/><rect x="272.75" y="577.3" width="4.05" height="130.65"/><rect x="278.39" y="578.1" width="4.05" height="129.85"/><rect x="284.02" y="578.1" width="4.05" height="129.85"/><rect x="289.66" y="579" width="4.05" height="128.95"/><rect x="295.3" y="579.2" width="4.05" height="128.75"/><rect x="300.93" y="579.4" width="4.05" height="128.55"/><rect x="306.57" y="579.8" width="4.05" height="128.15"/><rect x="312.21" y="580.4" width="4.05" height="127.55"/><rect x="317.84" y="581.5" width="4.05" height="126.45"/><rect x="323.48" y="582.1" width="4.05" height="125.85"/><rect x="329.12" y="585.2" width="4.05" height="122.75"/><rect x="334.75" y="586.25" width="4.05" height="121.7"/><rect x="340.39" y="586.3" width="4.05" height="121.65"/><rect x="346.02" y="586.9" width="4.05" height="121.05"/><rect x="351.66" y="589" width="4.05" height="118.95"/><rect x="357.3" y="589.8" width="4.05" height="118.15"/><rect x="362.93" y="589.8" width="4.05" height="118.15"/><rect x="368.57" y="590.2" width="4.05" height="117.75"/><rect x="374.21" y="591.2" width="4.05" height="116.75"/><rect x="379.84" y="592.1" width="4.05" height="115.85"/><rect x="385.48" y="593.8" width="4.05" height="114.15"/><rect x="391.12" y="593.8" width="4.05" height="114.15"/><rect x="396.75" y="594.4" width="4.05" height="113.55"/><rect x="402.39" y="594.4" width="4.05" height="113.55"/><rect x="408.03" y="595.2" width="4.05" height="112.75"/><rect x="413.66" y="595.2" width="4.05" height="112.75"/><rect x="419.3" y="599" width="4.05" height="108.95"/><rect x="424.94" y="599.4" width="4.05" height="108.55"/><rect x="430.57" y="603.3" width="4.05" height="104.65"/><rect x="436.21" y="604" width="4.05" height="103.95"/><rect x="441.85" y="605" width="4.05" height="102.95"/><rect x="447.48" y="605.8" width="4.05" height="102.15"/><rect x="453.12" y="606.3" width="4.05" height="101.65"/><rect x="458.75" y="608.3" width="4.05" height="99.65"/><rect x="464.39" y="610.2" width="4.05" height="97.75"/><rect x="470.03" y="611.2" width="4.05" height="96.75"/><rect x="475.66" y="611.2" width="4.05" height="96.75"/><rect x="481.3" y="612.1" width="4.05" height="95.85"/><rect x="486.94" y="615.4" width="4.05" height="92.55"/><rect x="492.57" y="615.4" width="4.05" height="92.55"/><rect x="498.21" y="616.7" width="4.05" height="91.25"/><rect x="503.85" y="634" width="4.05" height="73.95"/></g>
<path d="M62.85 489.3V708.7M62.1 707.95H511.4" stroke="#111" stroke-width="1.5" fill="none"/>
<path d="M60 701.86H62.8M60 695.78H62.8M60 689.69H62.8M60 683.61H62.8M60 677.52H62.8M60 671.43H62.8M60 665.35H62.8M60 659.26H62.8M60 653.18H62.8M60 641H62.8M60 634.92H62.8M60 628.83H62.8M60 622.75H62.8M60 616.66H62.8M60 610.57H62.8M60 604.49H62.8M60 598.4H62.8M60 592.32H62.8M60 580.14H62.8M60 574.06H62.8M60 567.97H62.8M60 561.89H62.8M60 555.8H62.8M60 549.71H62.8M60 543.63H62.8M60 537.54H62.8M60 531.46H62.8M60 519.28H62.8M60 513.2H62.8M60 507.11H62.8M60 501.03H62.8M60 494.94H62.8" stroke="#111" stroke-width="1.1" fill="none"/>
<path d="M58.3 707.95H62.8M58.3 647.09H62.8M58.3 586.23H62.8M58.3 525.37H62.8" stroke="#111" stroke-width="1.5" fill="none"/>
<path d="M66.23 708.5v3.7M71.86 708.5v3.7M77.5 708.5v3.7M83.13 708.5v3.7M88.77 708.5v3.7M94.41 708.5v3.7M100.04 708.5v3.7M105.68 708.5v3.7M111.32 708.5v3.7M116.95 708.5v3.7M122.59 708.5v3.7M128.23 708.5v3.7M133.86 708.5v3.7M139.5 708.5v3.7M145.14 708.5v3.7M150.77 708.5v3.7M156.41 708.5v3.7M162.05 708.5v3.7M167.68 708.5v3.7M173.32 708.5v3.7M178.96 708.5v3.7M184.59 708.5v3.7M190.23 708.5v3.7M195.86 708.5v3.7M201.5 708.5v3.7M207.14 708.5v3.7M212.77 708.5v3.7M218.41 708.5v3.7M224.05 708.5v3.7M229.68 708.5v3.7M235.32 708.5v3.7M240.96 708.5v3.7M246.59 708.5v3.7M252.23 708.5v3.7M257.87 708.5v3.7M263.5 708.5v3.7M269.14 708.5v3.7M274.78 708.5v3.7M280.41 708.5v3.7M286.05 708.5v3.7M291.68 708.5v3.7M297.32 708.5v3.7M302.96 708.5v3.7M308.59 708.5v3.7M314.23 708.5v3.7M319.87 708.5v3.7M325.5 708.5v3.7M331.14 708.5v3.7M336.78 708.5v3.7M342.41 708.5v3.7M348.05 708.5v3.7M353.69 708.5v3.7M359.32 708.5v3.7M364.96 708.5v3.7M370.6 708.5v3.7M376.23 708.5v3.7M381.87 708.5v3.7M387.51 708.5v3.7M393.14 708.5v3.7M398.78 708.5v3.7M404.41 708.5v3.7M410.05 708.5v3.7M415.69 708.5v3.7M421.32 708.5v3.7M426.96 708.5v3.7M432.6 708.5v3.7M438.23 708.5v3.7M443.87 708.5v3.7M449.51 708.5v3.7M455.14 708.5v3.7M460.78 708.5v3.7M466.42 708.5v3.7M472.05 708.5v3.7M477.69 708.5v3.7M483.33 708.5v3.7M488.96 708.5v3.7M494.6 708.5v3.7M500.24 708.5v3.7M505.87 708.5v3.7" stroke="#111" stroke-width="1.2" fill="none"/>
<text transform="translate(54.7,711.4) scale(1.12,1)" text-anchor="end" font-size="9.8">0</text><text transform="translate(54.7,650.54) scale(1.12,1)" text-anchor="end" font-size="9.8">200</text><text transform="translate(54.7,589.68) scale(1.12,1)" text-anchor="end" font-size="9.8">400</text><text transform="translate(54.7,528.82) scale(1.12,1)" text-anchor="end" font-size="9.8">600</text>
<text class="cn" transform="translate(27.8,598.7) rotate(-90) scale(0.662,1)" text-anchor="middle">Number of detectable miRNAs</text>
<text class="cn" transform="translate(286.9,730.6) scale(0.655,1)" text-anchor="middle">Patients</text>
</svg>
</body></html>
